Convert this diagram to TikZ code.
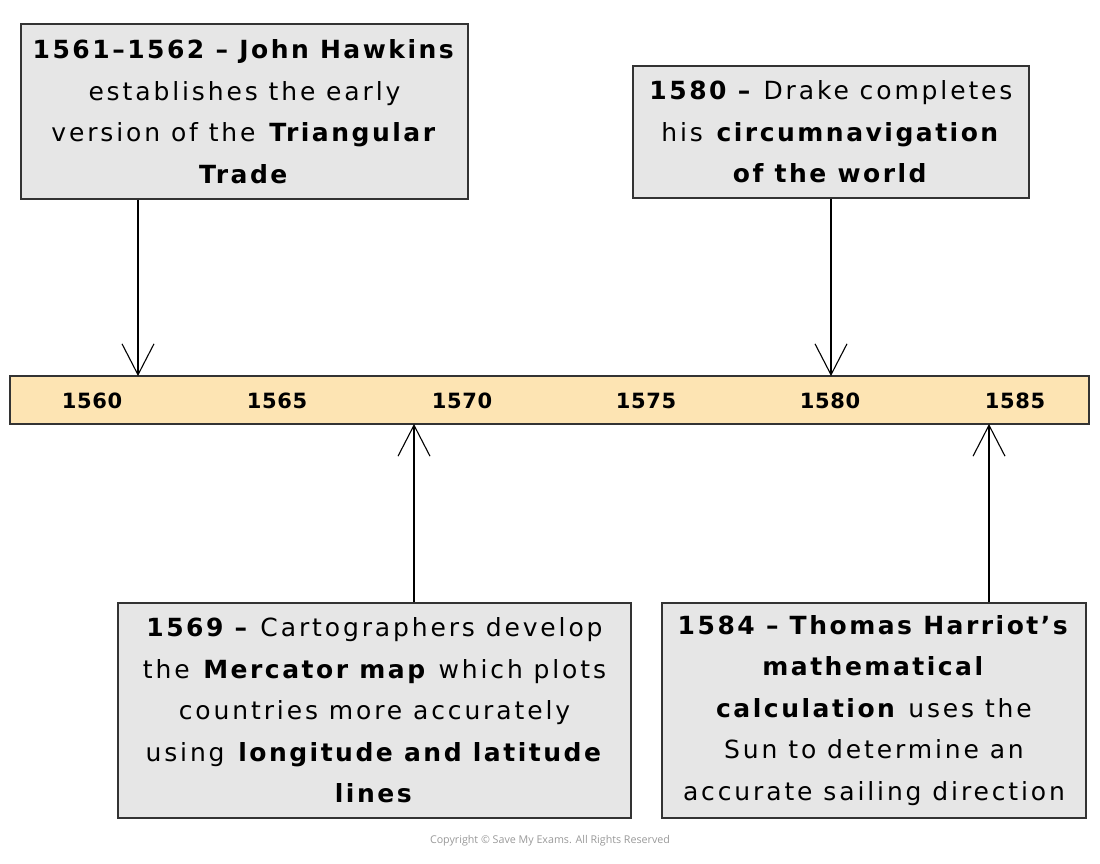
\documentclass[tikz,border=0pt]{standalone}
\usepackage{fontspec}
\setmainfont[LetterSpace=11.5,BoldFeatures={LetterSpace=10}]{DejaVu Sans}
\newfontfamily\yrfont[LetterSpace=3]{DejaVu Sans}
\newfontfamily\copyfont{Open Sans}
\usetikzlibrary{arrows.meta}
\definecolor{boxgrey}{HTML}{E6E6E6}
\definecolor{barfill}{HTML}{FDE4B3}
\begin{document}
\begin{tikzpicture}[x=1pt,y=-1pt,
  evbox/.style={draw=black!80, line width=1.2pt, fill=boxgrey, align=center, inner sep=0pt,
     font=\fontsize{25}{41.5}\selectfont},
  yr/.style={font=\yrfont\bfseries\fontsize{21}{24}\selectfont},
  conn/.style={line width=1.2pt, -{Straight Barb[length=31pt,width=32pt,line width=1.1pt]}}]
\useasboundingbox (0,0) rectangle (1100,863);
% timeline bar
\node[draw=black!80, line width=1.2pt, fill=barfill, minimum width=1079pt, minimum height=48pt, inner sep=0pt] (bar) at (549.5,400) {};
\node[yr] (y1560) at (92,401) {1560};
\node[yr] (y1565) at (277,401) {1565};
\node[yr] (y1570) at (462,401) {1570};
\node[yr] (y1575) at (646,401) {1575};
\node[yr] (y1580) at (830,401) {1580};
\node[yr] (y1585) at (1015,401) {1585};
% boxes
\node[evbox, minimum width=447pt, minimum height=175pt] (b1) at (244.5,111.5)
  {\textbf{1561–1562 – John Hawkins}\\establishes the early\\version of the \textbf{Triangular}\\\textbf{Trade}};
\node[evbox, minimum width=396pt, minimum height=132pt] (b2) at (831,132)
  {\textbf{1580 –} Drake completes\\his \textbf{circumnavigation}\\\textbf{of the world}};
\node[evbox, minimum width=513pt, minimum height=215pt] (b3) at (374.5,710.5)
  {\textbf{1569 –} Cartographers develop\\the \textbf{Mercator map} which plots\\countries more accurately\\using \textbf{longitude and latitude}\\\textbf{lines}};
\node[evbox, minimum width=424pt, minimum height=215pt] (b4) at (874,710.5)
  {\textbf{1584 – Thomas Harriot’s}\\\textbf{mathematical}\\\textbf{calculation} uses the\\Sun to determine an\\accurate sailing direction};
% connectors
\coordinate (t1) at (138,376);
\coordinate (t2) at (831,376);
\coordinate (t3) at (414,424);
\coordinate (t4) at (989,424);
\draw[conn] (b1.south -| t1) -- (t1);
\draw[conn] (b2.south -| t2) -- (t2);
\draw[conn] (b3.north -| t3) -- (t3);
\draw[conn] (b4.north -| t4) -- (t4);
\node[font=\copyfont\fontsize{10.7}{12}\selectfont, text=black!40] (copy) at (550,841) {Copyright © Save My Exams. All Rights Reserved};
\end{tikzpicture}
\end{document}
